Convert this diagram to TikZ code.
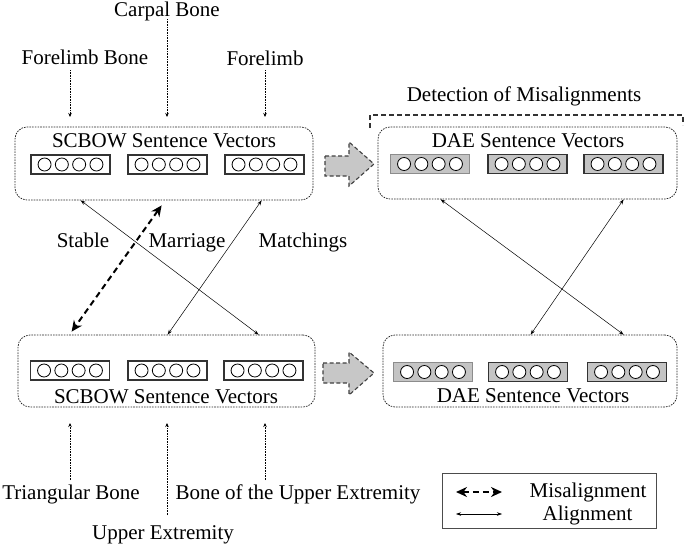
\documentclass[tikz,border=0pt]{standalone}
\usepackage{fontspec}
\setmainfont{Liberation Serif}
\usetikzlibrary{arrows.meta,calc}
\newcommand{\myvec}[3]{%
  \node[#3] (#1) at (#2) {};
  \foreach \k in {-1.5,-0.5,0.5,1.5}
    \draw[circ] ($(#1.center)+(\k*17.3,0)$) circle[radius=6.5pt];
}
\begin{document}
\begin{tikzpicture}[x=1pt,y=-1pt,
  lbl/.style={font=\fontsize{21}{25}\selectfont, inner sep=0pt, anchor=base},
  group/.style={draw=black!85, dash pattern=on 1.6pt off 1.1pt, line width=0.75pt, rounded corners=12pt, inner sep=0pt},
  vecbox/.style={draw=black!80, line width=1.3pt, fill=white, minimum width=79pt, minimum height=19pt, inner sep=0pt},
  daevec/.style={vecbox, fill=black!23},
  daevecl/.style={daevec, draw=black!45},
  circ/.style={draw=black, line width=0.8pt, fill=white},
  alignarr/.style={line width=0.5pt, {Stealth[length=5pt,width=3.5pt]}-{Stealth[length=5pt,width=3.5pt]}},
  misalign/.style={line width=2pt, dash pattern=on 6pt off 4pt, {Stealth[length=11pt,width=10pt]}-{Stealth[length=11pt,width=10pt]}},
  feed/.style={densely dotted, line width=0.6pt, -{Stealth[length=4pt,width=3.5pt]}},
  bigarrow/.style={fill=black!22, draw=black!75, dash pattern=on 4pt off 2.5pt, line width=1.1pt},
]
\useasboundingbox (0,0) rectangle (685,544);

% group boxes
\node[group, minimum width=298pt, minimum height=73pt] (TL) at (164,163.5) {};
\node[group, minimum width=299pt, minimum height=72pt] (TR) at (527.5,163) {};
\node[group, minimum width=297pt, minimum height=72pt] (BL) at (166.5,371) {};
\node[group, minimum width=294pt, minimum height=72pt] (BR) at (530,371) {};

% titles
\node[lbl] (TLt) at (164,147) {SCBOW Sentence Vectors};
\node[lbl] (TRt) at (528,147) {DAE Sentence Vectors};
\node[lbl] (BLt) at (166,403) {SCBOW Sentence Vectors};
\node[lbl] (BRt) at (533,402) {DAE Sentence Vectors};

% vectors
\myvec{tv1}{70.5,164.5}{vecbox}
\myvec{tv2}{167.5,164.5}{vecbox}
\myvec{tv3}{264.5,164.5}{vecbox}
\myvec{rv1}{430,164}{daevecl}
\myvec{rv2}{527.5,164}{daevec}
\myvec{rv3}{623.5,164}{daevec}
\myvec{bv1}{70,370.5}{vecbox}
\myvec{bv2}{167.5,370.5}{vecbox}
\myvec{bv3}{263.5,370.5}{vecbox}
\myvec{dv1}{433,372}{daevecl}
\myvec{dv2}{528,372}{daevec}
\myvec{dv3}{627,372}{daevec}

% big gray arrows
\draw[bigarrow] (325,156) -- (349,156) -- (349,142) -- (374,164) -- (349,186) -- (349,176) -- (325,176) -- cycle;
\draw[bigarrow] (323,363) -- (349,363) -- (349,352) -- (374,373) -- (349,395) -- (349,383) -- (323,383) -- cycle;

% detection bracket
\node[lbl] (det) at (524,101) {Detection of Misalignments};
\coordinate (brA) at (370,128);
\coordinate (brB) at (370,115);
\coordinate (brC) at (683,115);
\coordinate (brD) at (683,125);
\draw[dash pattern=on 5pt off 3pt, draw=black!80, line width=1.1pt] (brA) -- (brB) -- (brC) -- (brD);

% top labels and feeds
\node[lbl] (carpal) at (167,16) {Carpal Bone};
\node[lbl] (fbone) at (85,64) {Forelimb Bone};
\node[lbl] (flimb) at (265,65) {Forelimb};
\coordinate (f1s) at (70,70);  \coordinate (f1e) at (70,117);
\coordinate (f2s) at (167,19); \coordinate (f2e) at (167,117);
\coordinate (f3s) at (265,70); \coordinate (f3e) at (265,117);
\draw[feed] (f1s) -- (f1e);
\draw[feed] (f2s) -- (f2e);
\draw[feed] (f3s) -- (f3e);

% bottom labels and feeds
\node[lbl] (tri) at (71,499) {Triangular Bone};
\node[lbl] (bue) at (298,499) {Bone of the Upper Extremity};
\node[lbl] (ue) at (163,539) {Upper Extremity};
\coordinate (g1s) at (70,480);  \coordinate (g1e) at (70,423);
\coordinate (g2s) at (167,515); \coordinate (g2e) at (167,423);
\coordinate (g3s) at (265,480); \coordinate (g3e) at (265,423);
\draw[feed] (g1s) -- (g1e);
\draw[feed] (g2s) -- (g2e);
\draw[feed] (g3s) -- (g3e);

% matching labels
\node[lbl] (stable) at (83,247) {Stable};
\node[lbl] (marriage) at (187,247) {Marriage};
\node[lbl] (matchings) at (303,247) {Matchings};

% connectors left
\coordinate (a1) at ($(TL.south west)+(66,0)$);
\coordinate (a2) at ($(TL.south west)+(247,0)$);
\coordinate (ad) at ($(TL.south west)+(147,5)$);
\coordinate (b1) at ($(BL.north west)+(241,0)$);
\coordinate (b2) at ($(BL.north west)+(150,0)$);
\coordinate (bd) at ($(BL.north west)+(54,-3)$);
\draw[alignarr] (a1) -- (b1);
\draw[alignarr] (a2) -- (b2);
\draw[misalign] (ad) -- (bd);

% connectors right
\coordinate (c1) at ($(TR.south west)+(63,0)$);
\coordinate (c2) at ($(TR.south west)+(246,0)$);
\coordinate (d1) at ($(BR.north west)+(241,0)$);
\coordinate (d2) at ($(BR.north west)+(148,0)$);
\draw[alignarr] (c1) -- (d1);
\draw[alignarr] (c2) -- (d2);

% legend
\node[draw=black!70, line width=0.9pt, minimum width=214pt, minimum height=55pt, inner sep=0pt] (leg) at (549,500.5) {};
\coordinate (lm1) at (456,492); \coordinate (lm2) at (502,492);
\coordinate (la1) at (456,514); \coordinate (la2) at (502,514);
\draw[misalign] (lm1) -- (lm2);
\draw[alignarr] (la1) -- (la2);
\node[lbl] (lmis) at (588,497) {Misalignment};
\node[lbl] (lali) at (587.5,520) {Alignment};
\end{tikzpicture}
\end{document}
